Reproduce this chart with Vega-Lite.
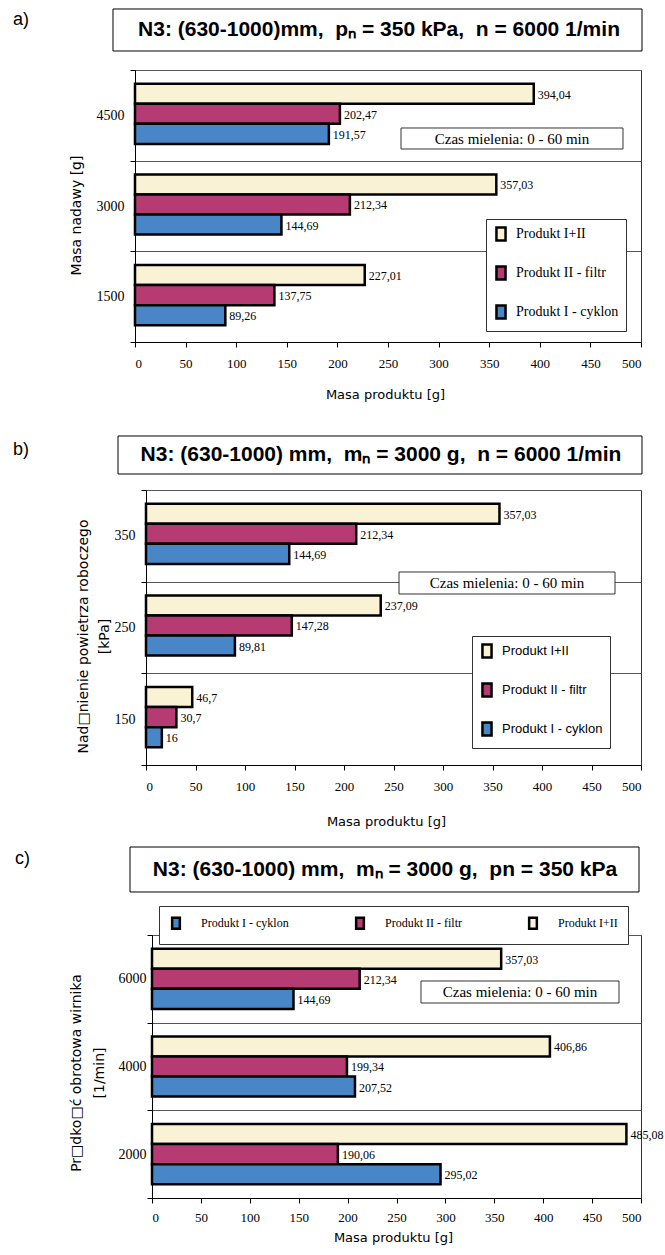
{
  "$schema": "https://vega.github.io/schema/vega-lite/v6.json",
  "background": "white",
  "padding": 0,
  "autosize": {"type": "pad"},
  "spacing": 0,
  "resolve": {"scale": {"color": "independent"}, "legend": {"color": "independent"}},
  "datasets": {
    "a": [
      {"cat": "4500", "product": "Produkt I+II", "value": 394.04},
      {"cat": "4500", "product": "Produkt II - filtr", "value": 202.47},
      {"cat": "4500", "product": "Produkt I - cyklon", "value": 191.57},
      {"cat": "3000", "product": "Produkt I+II", "value": 357.03},
      {"cat": "3000", "product": "Produkt II - filtr", "value": 212.34},
      {"cat": "3000", "product": "Produkt I - cyklon", "value": 144.69},
      {"cat": "1500", "product": "Produkt I+II", "value": 227.01},
      {"cat": "1500", "product": "Produkt II - filtr", "value": 137.75},
      {"cat": "1500", "product": "Produkt I - cyklon", "value": 89.26}
    ],
    "b": [
      {"cat": "350", "product": "Produkt I+II", "value": 357.03},
      {"cat": "350", "product": "Produkt II - filtr", "value": 212.34},
      {"cat": "350", "product": "Produkt I - cyklon", "value": 144.69},
      {"cat": "250", "product": "Produkt I+II", "value": 237.09},
      {"cat": "250", "product": "Produkt II - filtr", "value": 147.28},
      {"cat": "250", "product": "Produkt I - cyklon", "value": 89.81},
      {"cat": "150", "product": "Produkt I+II", "value": 46.7},
      {"cat": "150", "product": "Produkt II - filtr", "value": 30.7},
      {"cat": "150", "product": "Produkt I - cyklon", "value": 16}
    ],
    "c": [
      {"cat": "6000", "product": "Produkt I+II", "value": 357.03},
      {"cat": "6000", "product": "Produkt II - filtr", "value": 212.34},
      {"cat": "6000", "product": "Produkt I - cyklon", "value": 144.69},
      {"cat": "4000", "product": "Produkt I+II", "value": 406.86},
      {"cat": "4000", "product": "Produkt II - filtr", "value": 199.34},
      {"cat": "4000", "product": "Produkt I - cyklon", "value": 207.52},
      {"cat": "2000", "product": "Produkt I+II", "value": 485.08},
      {"cat": "2000", "product": "Produkt II - filtr", "value": 190.06},
      {"cat": "2000", "product": "Produkt I - cyklon", "value": 295.02}
    ]
  },
  "vconcat": [
    {
      "spacing": 0,
      "resolve": {"scale": {"color": "independent"}, "legend": {"color": "independent"}},
      "hconcat": [
        {
          "width": 10, "height": 10,
          "view": {"stroke": null},
          "data": {"values": [{}]},
          "mark": {"type": "rect", "opacity": 0},
          "encoding": {
            "x": {"datum": 0, "type": "quantitative", "scale": {"domain": [0, 1], "nice": false}, "axis": null},
            "x2": {"datum": 1},
            "y": {"datum": 0, "type": "quantitative", "scale": {"domain": [0, 1], "nice": false}, "axis": null},
            "y2": {"datum": 1}
          }
        },
        {
          "width": 506, "height": 272,
          "resolve": {"scale": {"x": "independent", "y": "independent"}},
          "layer": [
            {
              "data": {"values": [{}]},
              "mark": {"type": "rect", "opacity": 0},
              "encoding": {
                "x": {"datum": -122.53, "type": "quantitative", "scale": {"domain": [0, 500], "nice": false, "zero": false}, "axis": null},
                "x2": {"datum": 524.7},
                "y": {"datum": 3.761, "type": "quantitative", "scale": {"domain": [0, 3], "nice": false, "zero": false}, "axis": null},
                "y2": {"datum": -0.8162}
              }
            },
            {
              "data": {"name": "a"},
              "encoding": {
                "y": {"field": "cat", "type": "nominal", "sort": ["4500", "3000", "1500"], "scale": {"paddingInner": 0, "paddingOuter": 0},
                  "axis": {"title": "Masa nadawy  [g]", "tickBand": "extent", "grid": true, "gridColor": "#555", "tickSize": 5, "labelFont": "Liberation Serif", "labelFontSize": 14, "labelPadding": 6, "labelColor": "#000", "domainColor": "#000", "tickColor": "#000", "titleFont": "DejaVu Sans", "titleFontSize": 14, "titleFontWeight": "normal", "titleColor": "#000", "titleX": -59, "titleY": 145, "titleAngle": -90, "titleAlign": "center", "titleBaseline": "middle"}},
                "yOffset": {"field": "product", "type": "nominal", "sort": ["Produkt I+II", "Produkt II - filtr", "Produkt I - cyklon"], "scale": {"paddingInner": 0, "paddingOuter": 0.76, "align": 0.45}},
                "x": {"field": "value", "type": "quantitative", "scale": {"domain": [0, 500], "nice": false, "zero": false},
                  "axis": {"title": "Masa produktu [g]", "values": [0, 50, 100, 150, 200, 250, 300, 350, 400, 450, 500], "grid": false, "tickSize": 5, "labelFont": "Liberation Serif", "labelFontSize": 13, "labelPadding": 10, "labelColor": "#000", "domainColor": "#000", "tickColor": "#000", "titleFont": "DejaVu Sans", "titleFontSize": 13, "titleFontWeight": "normal", "titleColor": "#000", "titleX": 250, "titleY": 52, "titleBaseline": "middle"}}
              },
              "layer": [
                {
                  "mark": {"type": "bar", "stroke": "#000", "strokeWidth": 2.5},
                  "encoding": {
                    "color": {"field": "product", "type": "nominal",
                      "scale": {"domain": ["Produkt I+II", "Produkt II - filtr", "Produkt I - cyklon"], "range": ["#FAF2D4", "#B63B72", "#4886C7"]},
                      "legend": {"title": null, "orient": "none", "legendX": 351, "legendY": 149, "direction": "vertical", "symbolType": "M-0.7,-1H0.7V1H-0.7Z", "symbolSize": 169, "symbolStrokeColor": "#000", "symbolStrokeWidth": 2.5, "labelFont": "Liberation Serif", "labelFontSize": 14, "labelColor": "#000", "labelOffset": 7, "rowPadding": 15, "padding": 7, "strokeColor": "#333", "fillColor": "white"}}
                  }
                },
                {
                  "mark": {"type": "text", "align": "left", "baseline": "middle", "dx": 4, "dy": 1, "font": "Liberation Serif", "fontSize": 12, "color": "#000"},
                  "encoding": {"text": {"field": "value", "type": "quantitative", "format": ".2~f"}}
                }
              ]
            },
            {
              "data": {"values": [{}]},
              "mark": {"type": "rect", "fill": "white", "stroke": "#000", "strokeWidth": 1},
              "encoding": {
                "x": {"datum": -21.74, "type": "quantitative", "scale": {"domain": [0, 500], "nice": false, "zero": false}, "axis": null},
                "x2": {"datum": 500.99},
                "y": {"datum": 3.6728, "type": "quantitative", "scale": {"domain": [0, 3], "nice": false, "zero": false}, "axis": null},
                "y2": {"datum": 3.2096}
              }
            },
            {
              "data": {"values": [{}]},
              "mark": {"type": "text", "align": "center", "baseline": "middle", "font": "Liberation Sans", "fontWeight": "bold", "fontSize": 21, "color": "#000"},
              "encoding": {
                "x": {"datum": 241.1, "type": "quantitative", "scale": {"domain": [0, 500], "nice": false, "zero": false}, "axis": null},
                "y": {"datum": 3.4357, "type": "quantitative", "scale": {"domain": [0, 3], "nice": false, "zero": false}, "axis": null},
                "text": {"value": "N3: (630-1000)mm,\u00a0\u00a0pₙ = 350 kPa,\u00a0\u00a0n = 6000 1/min"}
              }
            },
            {
              "data": {"values": [{}]},
              "mark": {"type": "text", "align": "left", "baseline": "middle", "font": "Liberation Sans", "fontSize": 18, "color": "#000"},
              "encoding": {
                "x": {"datum": -120.55, "type": "quantitative", "scale": {"domain": [0, 500], "nice": false, "zero": false}, "axis": null},
                "y": {"datum": 3.5515, "type": "quantitative", "scale": {"domain": [0, 3], "nice": false, "zero": false}, "axis": null},
                "text": {"value": "a)"}
              }
            },
            {
              "data": {"values": [{}]},
              "mark": {"type": "rect", "fill": "white", "stroke": "#333", "strokeWidth": 1},
              "encoding": {
                "x": {"datum": 262.85, "type": "quantitative", "scale": {"domain": [0, 500], "nice": false, "zero": false}, "axis": null},
                "x2": {"datum": 482.21},
                "y": {"datum": 2.3603, "type": "quantitative", "scale": {"domain": [0, 3], "nice": false, "zero": false}, "axis": null},
                "y2": {"datum": 2.1287}
              }
            },
            {
              "data": {"values": [{}]},
              "mark": {"type": "text", "align": "center", "baseline": "middle", "font": "Liberation Serif", "fontSize": 15, "color": "#000"},
              "encoding": {
                "x": {"datum": 372.53, "type": "quantitative", "scale": {"domain": [0, 500], "nice": false, "zero": false}, "axis": null},
                "y": {"datum": 2.239, "type": "quantitative", "scale": {"domain": [0, 3], "nice": false, "zero": false}, "axis": null},
                "text": {"value": "Czas mielenia: 0 - 60 min"}
              }
            }
          ]
        }
      ]
    },
    {
      "spacing": 0,
      "resolve": {"scale": {"color": "independent"}, "legend": {"color": "independent"}},
      "hconcat": [
        {
          "width": 10, "height": 10,
          "view": {"stroke": null},
          "data": {"values": [{}]},
          "mark": {"type": "rect", "opacity": 0},
          "encoding": {
            "x": {"datum": 0, "type": "quantitative", "scale": {"domain": [0, 1], "nice": false}, "axis": null},
            "x2": {"datum": 1},
            "y": {"datum": 0, "type": "quantitative", "scale": {"domain": [0, 1], "nice": false}, "axis": null},
            "y2": {"datum": 1}
          }
        },
        {
          "width": 495, "height": 275,
          "resolve": {"scale": {"x": "independent", "y": "independent"}},
          "layer": [
            {
              "data": {"values": [{}]},
              "mark": {"type": "rect", "opacity": 0},
              "encoding": {
                "x": {"datum": -136.36, "type": "quantitative", "scale": {"domain": [0, 500], "nice": false, "zero": false}, "axis": null},
                "x2": {"datum": 525.25},
                "y": {"datum": 3.7855, "type": "quantitative", "scale": {"domain": [0, 3], "nice": false, "zero": false}, "axis": null},
                "y2": {"datum": -0.8509}
              }
            },
            {
              "data": {"name": "b"},
              "encoding": {
                "y": {"field": "cat", "type": "nominal", "sort": ["350", "250", "150"], "scale": {"paddingInner": 0, "paddingOuter": 0},
                  "axis": {"title": ["Nad□nienie powietrza roboczego", "[kPa]"], "tickBand": "extent", "grid": true, "gridColor": "#555", "tickSize": 5, "labelFont": "Liberation Serif", "labelFontSize": 14, "labelPadding": 6, "labelColor": "#000", "domainColor": "#000", "tickColor": "#000", "titleFont": "DejaVu Sans", "titleFontSize": 14, "titleFontWeight": "normal", "titleColor": "#000", "titleLineHeight": 21, "titleX": -62.5, "titleY": 146, "titleAngle": -90, "titleAlign": "center", "titleBaseline": "middle"}},
                "yOffset": {"field": "product", "type": "nominal", "sort": ["Produkt I+II", "Produkt II - filtr", "Produkt I - cyklon"], "scale": {"paddingInner": 0, "paddingOuter": 0.65, "align": 0.57}},
                "x": {"field": "value", "type": "quantitative", "scale": {"domain": [0, 500], "nice": false, "zero": false},
                  "axis": {"title": "Masa produktu [g]", "values": [0, 50, 100, 150, 200, 250, 300, 350, 400, 450, 500], "grid": false, "tickSize": 5, "labelFont": "Liberation Serif", "labelFontSize": 13, "labelPadding": 10, "labelColor": "#000", "domainColor": "#000", "tickColor": "#000", "titleFont": "DejaVu Sans", "titleFontSize": 13, "titleFontWeight": "normal", "titleColor": "#000", "titleX": 240, "titleY": 56, "titleBaseline": "middle"}}
              },
              "layer": [
                {
                  "mark": {"type": "bar", "stroke": "#000", "strokeWidth": 2.5},
                  "encoding": {
                    "color": {"field": "product", "type": "nominal",
                      "scale": {"domain": ["Produkt I+II", "Produkt II - filtr", "Produkt I - cyklon"], "range": ["#FAF2D4", "#B63B72", "#4886C7"]},
                      "legend": {"title": null, "orient": "none", "legendX": 326, "legendY": 146, "direction": "vertical", "symbolType": "M-0.7,-1H0.7V1H-0.7Z", "symbolSize": 169, "symbolStrokeColor": "#000", "symbolStrokeWidth": 2.5, "labelFont": "Liberation Sans", "labelFontSize": 13, "labelColor": "#000", "labelOffset": 7, "rowPadding": 15, "padding": 7, "strokeColor": "#333", "fillColor": "white"}}
                  }
                },
                {
                  "mark": {"type": "text", "align": "left", "baseline": "middle", "dx": 4, "dy": 1, "font": "Liberation Serif", "fontSize": 12, "color": "#000"},
                  "encoding": {"text": {"field": "value", "type": "quantitative", "format": ".2~f"}}
                }
              ]
            },
            {
              "data": {"values": [{}]},
              "mark": {"type": "rect", "fill": "white", "stroke": "#000", "strokeWidth": 1},
              "encoding": {
                "x": {"datum": -28.28, "type": "quantitative", "scale": {"domain": [0, 500], "nice": false, "zero": false}, "axis": null},
                "x2": {"datum": 501.01},
                "y": {"datum": 3.5891, "type": "quantitative", "scale": {"domain": [0, 3], "nice": false, "zero": false}, "axis": null},
                "y2": {"datum": 3.1745}
              }
            },
            {
              "data": {"values": [{}]},
              "mark": {"type": "text", "align": "center", "baseline": "middle", "font": "Liberation Sans", "fontWeight": "bold", "fontSize": 21, "color": "#000"},
              "encoding": {
                "x": {"datum": 237.37, "type": "quantitative", "scale": {"domain": [0, 500], "nice": false, "zero": false}, "axis": null},
                "y": {"datum": 3.3818, "type": "quantitative", "scale": {"domain": [0, 3], "nice": false, "zero": false}, "axis": null},
                "text": {"value": "N3: (630-1000) mm,\u00a0\u00a0mₙ = 3000 g,\u00a0\u00a0n = 6000 1/min"}
              }
            },
            {
              "data": {"values": [{}]},
              "mark": {"type": "text", "align": "left", "baseline": "middle", "font": "Liberation Sans", "fontSize": 18, "color": "#000"},
              "encoding": {
                "x": {"datum": -134.34, "type": "quantitative", "scale": {"domain": [0, 500], "nice": false, "zero": false}, "axis": null},
                "y": {"datum": 3.4364, "type": "quantitative", "scale": {"domain": [0, 3], "nice": false, "zero": false}, "axis": null},
                "text": {"value": "b)"}
              }
            },
            {
              "data": {"values": [{}]},
              "mark": {"type": "rect", "fill": "white", "stroke": "#333", "strokeWidth": 1},
              "encoding": {
                "x": {"datum": 255.56, "type": "quantitative", "scale": {"domain": [0, 500], "nice": false, "zero": false}, "axis": null},
                "x2": {"datum": 473.74},
                "y": {"datum": 2.1055, "type": "quantitative", "scale": {"domain": [0, 3], "nice": false, "zero": false}, "axis": null},
                "y2": {"datum": 1.8655}
              }
            },
            {
              "data": {"values": [{}]},
              "mark": {"type": "text", "align": "center", "baseline": "middle", "font": "Liberation Serif", "fontSize": 15, "color": "#000"},
              "encoding": {
                "x": {"datum": 364.65, "type": "quantitative", "scale": {"domain": [0, 500], "nice": false, "zero": false}, "axis": null},
                "y": {"datum": 1.9855, "type": "quantitative", "scale": {"domain": [0, 3], "nice": false, "zero": false}, "axis": null},
                "text": {"value": "Czas mielenia: 0 - 60 min"}
              }
            }
          ]
        }
      ]
    },
    {
      "spacing": 0,
      "resolve": {"scale": {"color": "independent"}, "legend": {"color": "independent"}},
      "hconcat": [
        {
          "width": 10, "height": 10,
          "view": {"stroke": null},
          "data": {"values": [{}]},
          "mark": {"type": "rect", "opacity": 0},
          "encoding": {
            "x": {"datum": 0, "type": "quantitative", "scale": {"domain": [0, 1], "nice": false}, "axis": null},
            "x2": {"datum": 1},
            "y": {"datum": 0, "type": "quantitative", "scale": {"domain": [0, 1], "nice": false}, "axis": null},
            "y2": {"datum": 1}
          }
        },
        {
          "width": 489, "height": 263,
          "resolve": {"scale": {"x": "independent", "y": "independent"}},
          "layer": [
            {
              "data": {"values": [{}]},
              "mark": {"type": "rect", "opacity": 0},
              "encoding": {
                "x": {"datum": -144.17, "type": "quantitative", "scale": {"domain": [0, 500], "nice": false, "zero": false}, "axis": null},
                "x2": {"datum": 525.56},
                "y": {"datum": 4.0266, "type": "quantitative", "scale": {"domain": [0, 3], "nice": false, "zero": false}, "axis": null},
                "y2": {"datum": -0.6388}
              }
            },
            {
              "data": {"name": "c"},
              "encoding": {
                "y": {"field": "cat", "type": "nominal", "sort": ["6000", "4000", "2000"], "scale": {"paddingInner": 0, "paddingOuter": 0},
                  "axis": {"title": ["Pr□dko□ć obrotowa wirnika", "[1/min]"], "tickBand": "extent", "grid": true, "gridColor": "#555", "tickSize": 5, "labelFont": "Liberation Serif", "labelFontSize": 14, "labelPadding": 1, "labelColor": "#000", "domainColor": "#000", "tickColor": "#000", "titleFont": "DejaVu Sans", "titleFontSize": 14, "titleFontWeight": "normal", "titleColor": "#000", "titleLineHeight": 23, "titleX": -76, "titleY": 137.5, "titleAngle": -90, "titleAlign": "center", "titleBaseline": "middle"}},
                "yOffset": {"field": "product", "type": "nominal", "sort": ["Produkt I+II", "Produkt II - filtr", "Produkt I - cyklon"], "scale": {"paddingInner": 0, "paddingOuter": 0.69, "align": 0.46}},
                "x": {"field": "value", "type": "quantitative", "scale": {"domain": [0, 500], "nice": false, "zero": false},
                  "axis": {"title": "Masa produktu [g]", "values": [0, 50, 100, 150, 200, 250, 300, 350, 400, 450, 500], "grid": false, "tickSize": 5, "labelFont": "Liberation Serif", "labelFontSize": 13, "labelPadding": 8, "labelColor": "#000", "domainColor": "#000", "tickColor": "#000", "titleFont": "DejaVu Sans", "titleFontSize": 13, "titleFontWeight": "normal", "titleColor": "#000", "titleX": 241, "titleY": 39, "titleBaseline": "middle"}}
              },
              "layer": [
                {
                  "mark": {"type": "bar", "stroke": "#000", "strokeWidth": 2.5},
                  "encoding": {
                    "color": {"field": "product", "type": "nominal",
                      "scale": {"domain": ["Produkt I - cyklon", "Produkt II - filtr", "Produkt I+II"], "range": ["#4886C7", "#B63B72", "#FAF2D4"]},
                      "legend": {"title": null, "orient": "none", "legendX": 7, "legendY": -29, "direction": "horizontal", "columns": 3, "columnPadding": 62, "symbolType": "M-0.7,-1H0.7V1H-0.7Z", "symbolSize": 121, "symbolStrokeColor": "#000", "symbolStrokeWidth": 2.5, "labelFont": "Liberation Serif", "labelFontSize": 12, "labelColor": "#000", "labelOffset": 18, "padding": 10, "strokeColor": "#333", "fillColor": "white"}}
                  }
                },
                {
                  "mark": {"type": "text", "align": "left", "baseline": "middle", "dx": 4, "dy": 1, "font": "Liberation Serif", "fontSize": 12, "color": "#000"},
                  "encoding": {"text": {"field": "value", "type": "quantitative", "format": ".2~f"}}
                }
              ]
            },
            {
              "data": {"values": [{}]},
              "mark": {"type": "rect", "fill": "white", "stroke": "#000", "strokeWidth": 1},
              "encoding": {
                "x": {"datum": -22.49, "type": "quantitative", "scale": {"domain": [0, 500], "nice": false, "zero": false}, "axis": null},
                "x2": {"datum": 497.96},
                "y": {"datum": 4.0038, "type": "quantitative", "scale": {"domain": [0, 3], "nice": false, "zero": false}, "axis": null},
                "y2": {"datum": 3.4905}
              }
            },
            {
              "data": {"values": [{}]},
              "mark": {"type": "text", "align": "center", "baseline": "middle", "font": "Liberation Sans", "fontWeight": "bold", "fontSize": 21, "color": "#000"},
              "encoding": {
                "x": {"datum": 238.24, "type": "quantitative", "scale": {"domain": [0, 500], "nice": false, "zero": false}, "axis": null},
                "y": {"datum": 3.7471, "type": "quantitative", "scale": {"domain": [0, 3], "nice": false, "zero": false}, "axis": null},
                "text": {"value": "N3: (630-1000) mm,\u00a0\u00a0mₙ = 3000 g,\u00a0\u00a0pn = 350 kPa"}
              }
            },
            {
              "data": {"values": [{}]},
              "mark": {"type": "text", "align": "left", "baseline": "middle", "font": "Liberation Sans", "fontSize": 18, "color": "#000"},
              "encoding": {
                "x": {"datum": -140.08, "type": "quantitative", "scale": {"domain": [0, 500], "nice": false, "zero": false}, "axis": null},
                "y": {"datum": 3.8669, "type": "quantitative", "scale": {"domain": [0, 3], "nice": false, "zero": false}, "axis": null},
                "text": {"value": "c)"}
              }
            },
            {
              "data": {"values": [{}]},
              "mark": {"type": "rect", "fill": "white", "stroke": "#333", "strokeWidth": 1},
              "encoding": {
                "x": {"datum": 275.05, "type": "quantitative", "scale": {"domain": [0, 500], "nice": false, "zero": false}, "axis": null},
                "x2": {"datum": 477.51},
                "y": {"datum": 2.4753, "type": "quantitative", "scale": {"domain": [0, 3], "nice": false, "zero": false}, "axis": null},
                "y2": {"datum": 2.2243}
              }
            },
            {
              "data": {"values": [{}]},
              "mark": {"type": "text", "align": "center", "baseline": "middle", "font": "Liberation Serif", "fontSize": 15, "color": "#000"},
              "encoding": {
                "x": {"datum": 376.28, "type": "quantitative", "scale": {"domain": [0, 500], "nice": false, "zero": false}, "axis": null},
                "y": {"datum": 2.3498, "type": "quantitative", "scale": {"domain": [0, 3], "nice": false, "zero": false}, "axis": null},
                "text": {"value": "Czas mielenia: 0 - 60 min"}
              }
            }
          ]
        }
      ]
    }
  ],
  "config": {
    "view": {"stroke": "#333", "strokeWidth": 1},
    "locale": {"number": {"decimal": ",", "thousands": ".", "grouping": [3], "currency": ["", ""]}}
  }
}
